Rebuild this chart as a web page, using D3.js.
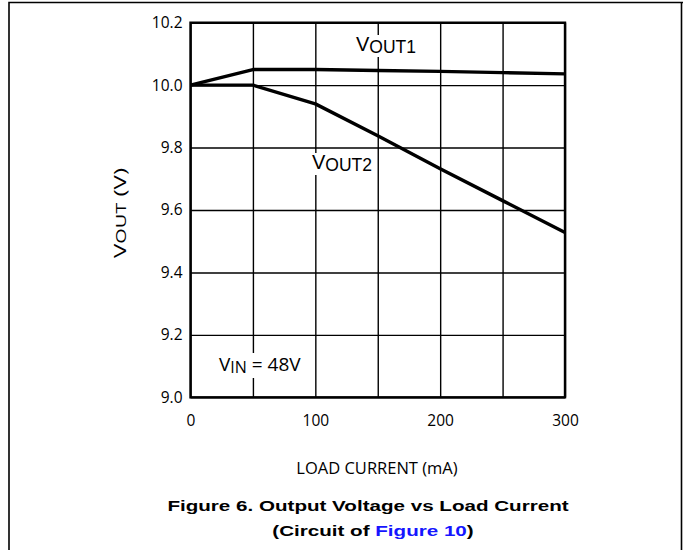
<!DOCTYPE html>
<html>
<head>
<meta charset="utf-8">
<script src="https://cdn.jsdelivr.net/npm/d3@7"></script>
<style>
  body { margin: 0; background: #fff; }
  svg { display: block; }
</style>
</head>
<body>
<div id="chart"></div>
<script>
  // values
  const loadCurrent = [0, 50, 100, 150, 200, 250, 300];
  const vout1 = [10.0, 10.05, 10.05, 10.047, 10.044, 10.04, 10.036];
  const vout2 = [10.0, 10.0, 9.94, 9.838, 9.732, 9.63, 9.528];
  const xTicks = [0, 50, 100, 150, 200, 250, 300];
  const xLabels = [0, 100, 200, 300];
  const yTicks = [9.0, 9.2, 9.4, 9.6, 9.8, 10.0, 10.2];

  let W = 683, H = 550;
  let margin = { top: 22.7, left: 190.5 };
  let width = 374.5, height = 374.6;

  let root = d3.select('#chart')
    .append('svg')
    .attr('width', W)
    .attr('height', H);

  // page frame
  root.append('path')
    .attr('d', `M9,${H} V2.5 H${W} M681.5,2.5 V${H}`)
    .attr('fill', 'none')
    .attr('stroke', '#000')
    .attr('stroke-width', 1.6);

  let svg = root.append('g')
    .attr('transform', `translate(${margin.left}, ${margin.top})`);

  let xScale = d3.scaleLinear().domain([0, 300]).range([0, width]);
  let yScale = d3.scaleLinear().domain([9.0, 10.2]).range([height, 0]);

  // grid
  let xGrid = d3.axisBottom(xScale).tickValues(xTicks).tickSize(-height).tickFormat('');
  let yGrid = d3.axisLeft(yScale).tickValues(yTicks).tickSize(-width).tickFormat('');

  svg.append('g')
    .attr('transform', `translate(0, ${height})`)
    .call(xGrid)
    .call(g => g.select('.domain').remove())
    .call(g => g.selectAll('line').attr('stroke', '#000').attr('stroke-width', 1.4));

  svg.append('g')
    .call(yGrid)
    .call(g => g.select('.domain').remove())
    .call(g => g.selectAll('line').attr('stroke', '#000').attr('stroke-width', 1.4));

  svg.append('rect')
    .attr('width', width)
    .attr('height', height)
    .attr('fill', 'none')
    .attr('stroke', '#000')
    .attr('stroke-width', 2.4);

  // tick labels
  let xAxis = d3.axisBottom(xScale).tickValues(xLabels).tickSize(0).tickPadding(18);
  svg.append('g')
    .attr('transform', `translate(0, ${height})`)
    .call(xAxis)
    .call(g => g.select('.domain').remove())
    .call(g => g.selectAll('text')
      .attr('font-family', 'Open Sans')
      .attr('font-size', 15.5)
      .attr('fill', '#000'));

  let yAxis = d3.axisLeft(yScale).tickValues(yTicks).tickSize(0).tickPadding(8).tickFormat(d3.format('.1f'));
  svg.append('g')
    .call(yAxis)
    .call(g => g.select('.domain').remove())
    .call(g => g.selectAll('text')
      .attr('font-family', 'Open Sans')
      .attr('font-size', 15.5)
      .attr('fill', '#000'));

  // series labels sit on white boxes that cut the grid, drawn before the data lines
  let labels = root.append('g');

  function subLabel(x, y, sub, family, big, small, rest) {
    let g = labels.append('g');
    let t = g.append('text')
      .attr('x', x)
      .attr('y', y)
      .attr('font-family', family)
      .attr('fill', '#000');
    t.append('tspan').attr('font-size', big).text('V');
    t.append('tspan').attr('font-size', small).attr('dy', 2).text(sub);
    if (rest) t.append('tspan').attr('font-size', big).attr('dy', -2).text(rest);
    let bb = t.node().getBBox();
    g.insert('rect', 'text')
      .attr('x', bb.x - 2)
      .attr('y', bb.y + 2)
      .attr('width', bb.width + 4)
      .attr('height', bb.height - 2)
      .attr('fill', '#fff');
  }

  subLabel(356, 51, 'OUT1', 'Liberation Sans', 20, 17.5);
  subLabel(312, 169, 'OUT2', 'Liberation Sans', 20, 17.5);
  subLabel(219, 371, 'IN', 'Open Sans', 19, 16, ' = 48V');

  // data lines
  let line = d3.line()
    .x(d => xScale(d[0]) + margin.left)
    .y(d => yScale(d[1]) + margin.top);

  [vout1, vout2].forEach(series => {
    root.append('path')
      .datum(loadCurrent.map((c, i) => [c, series[i]]))
      .attr('d', line)
      .attr('fill', 'none')
      .attr('stroke', '#000')
      .attr('stroke-width', 3.4)
      .attr('stroke-linejoin', 'round');
  });

  // axis titles
  let yTitle = root.append('text')
    .attr('transform', 'translate(126, 213) rotate(-90) scale(1.42, 1)')
    .attr('text-anchor', 'middle')
    .attr('font-family', 'Open Sans')
    .attr('fill', '#000');
  yTitle.append('tspan').attr('font-size', 17).text('V');
  yTitle.append('tspan').attr('font-size', 14).text('OUT');
  yTitle.append('tspan').attr('font-size', 17).text(' (V)');

  root.append('text')
    .attr('x', 377)
    .attr('y', 474)
    .attr('text-anchor', 'middle')
    .attr('font-family', 'Open Sans')
    .attr('font-size', 16.5)
    .attr('fill', '#000')
    .text('LOAD CURRENT (mA)');

  // caption
  root.append('text')
    .attr('transform', 'translate(368, 511) scale(1.33, 1)')
    .attr('text-anchor', 'middle')
    .attr('font-family', 'Liberation Sans')
    .attr('font-weight', 'bold')
    .attr('font-size', 15.5)
    .attr('fill', '#000')
    .text('Figure 6. Output Voltage vs Load Current');

  let cap2 = root.append('text')
    .attr('transform', 'translate(373, 536) scale(1.33, 1)')
    .attr('text-anchor', 'middle')
    .attr('font-family', 'Liberation Sans')
    .attr('font-weight', 'bold')
    .attr('font-size', 15.5)
    .attr('fill', '#000');
  cap2.append('tspan').text('(Circuit of ');
  cap2.append('tspan').attr('fill', '#1515ff').text('Figure 10');
  cap2.append('tspan').text(')');
</script>
</body>
</html>
